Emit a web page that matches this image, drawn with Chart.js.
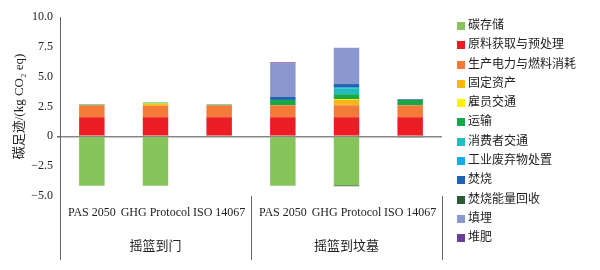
<!DOCTYPE html>
<html>
<head>
<meta charset="utf-8">
<script src="https://cdn.jsdelivr.net/npm/chart.js@4/dist/chart.umd.min.js"></script>
<style>
  html, body { margin: 0; padding: 0; background: #fff; }
  #wrap { position: relative; width: 600px; height: 270px; }
  #legend { position: absolute; left: 457px; top: 14px; font-family: "Noto Sans CJK SC", sans-serif; font-size: 12px; color: #222; }
  #legend div { height: 19.3px; line-height: 19.3px; white-space: nowrap; }
  #legend span { display: inline-block; width: 8px; height: 8px; margin-right: 3px; vertical-align: -1px; }
</style>
</head>
<body>
<div id="wrap">
  <canvas id="chart" width="600" height="270"></canvas>
  <div id="legend"></div>
</div>
<script>
const categories = ['PAS 2050', 'GHG Protocol', 'ISO 14067', 'PAS 2050', 'GHG Protocol', 'ISO 14067'];
const groups = ['摇篮到门', '摇篮到坟墓'];
const yTicks = [10, 7.5, 5, 2.5, 0, -2.5, -5];

const seriesNames = ['碳存储', '原料获取与预处理', '生产电力与燃料消耗', '固定资产', '雇员交通', '运输',
  '消费者交通', '工业废弃物处置', '焚烧', '焚烧能量回收', '填埋', '堆肥'];

const carbonStorage     = [-4.15, -4.15, 0, -4.15, -4.1, 0];
const rawMaterial       = [1.6, 1.6, 1.6, 1.6, 1.6, 1.6];
const production        = [1.0, 0.95, 1.0, 1.0, 1.0, 1.0];
const fixedAssets       = [0, 0.15, 0, 0, 0.45, 0];
const commute           = [0, 0.05, 0, 0, 0.08, 0];
const transport         = [0.07, 0.08, 0.07, 0.45, 0.4, 0.45];
const consumerTransport = [0, 0, 0, 0, 0.5, 0];
const industrialWaste   = [0, 0, 0, 0, 0.05, 0];
const incineration      = [0, 0, 0, 0.25, 0.3, 0.03];
const energyRecovery    = [0, 0, 0, 0, -0.08, -0.08];
const landfill          = [0, 0, 0, 2.8, 3.05, 0];
const compost           = [0, 0, 0, 0.1, 0, 0.05];

const seriesValues = [carbonStorage, rawMaterial, production, fixedAssets, commute, transport,
  consumerTransport, industrialWaste, incineration, energyRecovery, landfill, compost];
const colors = ['#86c35a', '#ec1c24', '#f47a38', '#fbb616', '#fff200', '#18a84c',
  '#1fbcc0', '#10aee8', '#1f64b0', '#2f5a32', '#8a98cf', '#6a3d98'];

const serif = '"Liberation Serif", "Noto Sans CJK SC", serif';

// separators under the axis and the group names
const groupPlugin = {
  id: 'groups',
  afterDraw(chart) {
    const c = chart.ctx;
    const x = chart.scales.x;
    const area = chart.chartArea;
    const half = (x.getPixelForValue(1) - x.getPixelForValue(0)) / 2;
    const seps = [x.getPixelForValue(0) - half, x.getPixelForValue(2) + half, x.getPixelForValue(5) + half];
    c.save();
    c.strokeStyle = '#666';
    c.lineWidth = 1;
    seps.forEach(px => {
      c.beginPath();
      c.moveTo(Math.round(px) + 0.5, area.bottom);
      c.lineTo(Math.round(px) + 0.5, 260);
      c.stroke();
    });
    c.fillStyle = '#222';
    c.font = '13px "Noto Sans CJK SC", sans-serif';
    c.textAlign = 'center';
    c.textBaseline = 'middle';
    groups.forEach((g, i) => {
      const cx = (x.getPixelForValue(i * 3) + x.getPixelForValue(i * 3 + 2)) / 2;
      c.fillText(g, cx, 245);
    });
    c.restore();
  }
};

const ctx = document.getElementById('chart').getContext('2d');

new Chart(ctx, {
  type: 'bar',
  data: {
    labels: categories,
    datasets: seriesNames.map((name, i) => ({
      label: name,
      data: seriesValues[i],
      backgroundColor: colors[i],
      borderWidth: 0,
      barPercentage: 0.4,
      categoryPercentage: 1
    }))
  },
  options: {
    responsive: false,
    animation: false,
    layout: { padding: { top: 17, right: 158, left: 0, bottom: 0 } },
    plugins: { legend: { display: false }, tooltip: { enabled: false } },
    scales: {
      x: {
        stacked: true,
        grid: { display: false, drawTicks: false },
        border: { display: false },
        ticks: { color: '#222', padding: 10, maxRotation: 0, minRotation: 0, autoSkip: false, font: { family: serif, size: 12 } },
        afterFit: s => { s.height = 74; }
      },
      y: {
        stacked: true,
        min: -5,
        max: 10,
        afterBuildTicks: s => { s.ticks = yTicks.map(v => ({ value: v })); },
        afterFit: s => { s.width = 60; },
        ticks: {
          color: '#222',
          padding: 4,
          font: { family: serif, size: 12 },
          callback: v => v === 0 ? '0' : v.toFixed(1).replace('-', '−')
        },
        grid: {
          color: c => c.tick && c.tick.value === 0 ? '#888' : 'rgba(0,0,0,0)',
          lineWidth: c => c.tick && c.tick.value === 0 ? 1.5 : 0,
          tickColor: '#666',
          tickLength: 3
        },
        border: { color: '#666', width: 1 },
        title: {
          display: true,
          text: '碳足迹/(kg CO₂ eq)',
          color: '#222',
          padding: { top: 12, bottom: 0 },
          font: { family: serif, size: 13 }
        }
      }
    }
  },
  plugins: [groupPlugin]
});

const legend = document.getElementById('legend');
seriesNames.forEach((name, i) => {
  const row = document.createElement('div');
  row.innerHTML = '<span style="background:' + colors[i] + '"></span>' + name;
  legend.appendChild(row);
});
</script>
</body>
</html>
